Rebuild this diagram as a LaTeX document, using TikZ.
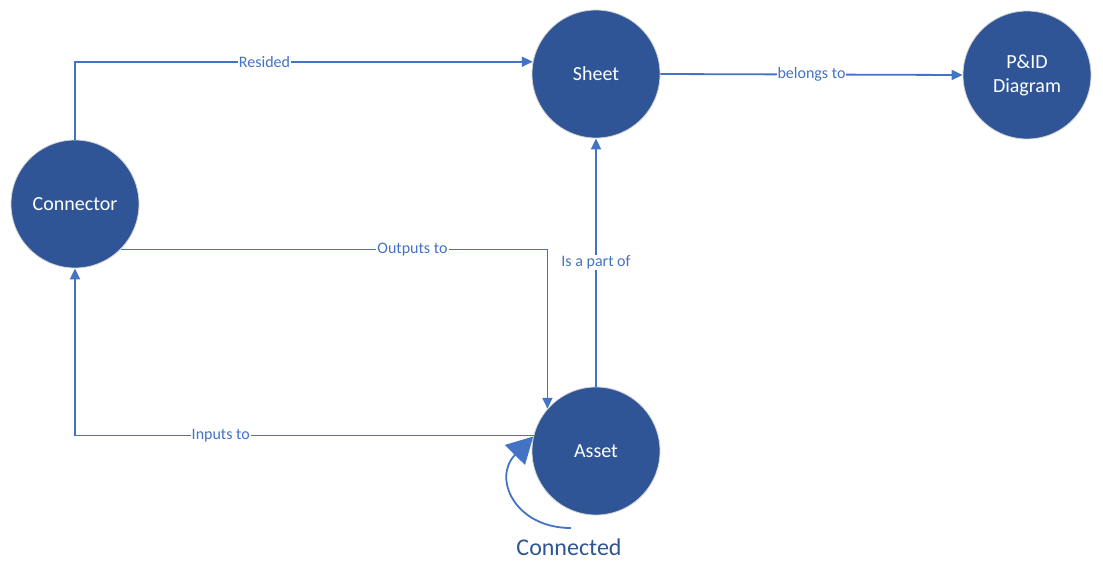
\documentclass[tikz,border=0pt]{standalone}
\usepackage{fontspec}
\setmainfont{Carlito}
\usetikzlibrary{arrows.meta}
\definecolor{nodeblue}{HTML}{2F5597}
\definecolor{linkblue}{HTML}{4472C4}
\tikzset{
  entity/.style={circle, fill=nodeblue, draw=gray!35, line width=0.8pt,
    minimum size=128pt, inner sep=0pt, text=white, font=\fontsize{20}{24}\selectfont,
    align=center},
  link/.style={draw=linkblue, line width=1.8pt,
    -{Triangle[length=11pt,width=10pt]}},
  linklabel/.style={fill=white, text=linkblue, inner sep=1pt,
    font=\fontsize{16}{18}\selectfont}
}
\begin{document}
\begin{tikzpicture}[x=1pt,y=-1pt]
\useasboundingbox (0,0) rectangle (1103,582);

% entities
\node[entity] (con)   at (75,204)  {Connector};
\node[entity] (sheet) at (596,74)  {Sheet};
\node[entity] (pid)   at (1027,75) {P\&ID\\Diagram};
\node[entity] (asset) at (596,451) {Asset};

% relations
\draw[link] (con.north) |- (sheet.169)
  node[linklabel, pos=0.707] {Resided};
\draw[link] (sheet.east) -- (pid.west)
  node[linklabel, pos=0.5] {belongs to};
\draw[link] (asset.north) -- (sheet.south)
  node[linklabel, pos=0.5] {Is a part of};
\draw[link] (con.-45) -| (asset.139)
  node[linklabel, pos=0.342] {Outputs to};
\draw[link] (asset.166) -| (con.south)
  node[linklabel, pos=0.341] {Inputs to};

% self relation
\coordinate (loopstart) at (571,528);
\draw[draw=linkblue, line width=1.8pt, -{Triangle[length=26pt,width=28pt]}]
  (loopstart) .. controls (515,528) and (492,478) .. (asset.167);
\node[text=nodeblue, font=\fontsize{24}{28}\selectfont] (conn) at (569,547) {Connected};
\end{tikzpicture}
\end{document}
